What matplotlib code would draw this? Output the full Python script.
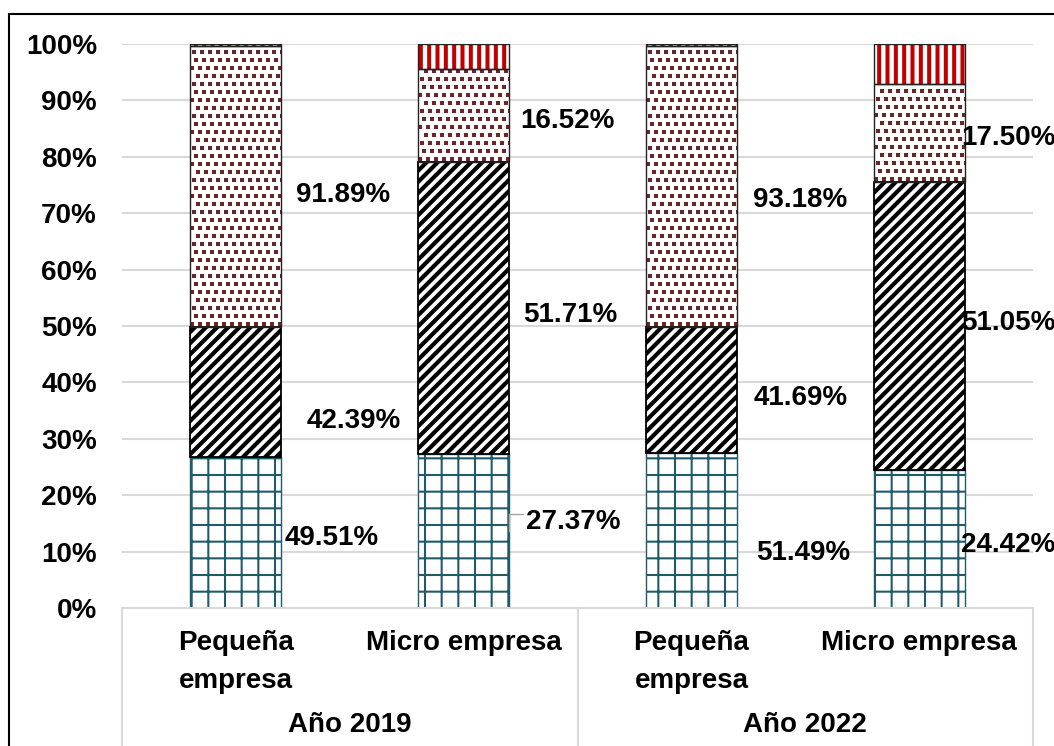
import matplotlib
matplotlib.use('Agg')
import matplotlib.pyplot as plt
import matplotlib.transforms as mtrans
from matplotlib.patches import Rectangle
import numpy as np

plt.rcParams['font.family'] = ['Liberation Sans', 'DejaVu Sans']
plt.rcParams['font.weight'] = 'bold'

# ---------------- data ----------------
categories = ['Pequeña\nempresa', 'Micro empresa', 'Pequeña\nempresa', 'Micro empresa']
groups = ['Año 2019', 'Año 2022']
series_grid = [49.51, 27.37, 51.49, 24.42]   # bottom (grid pattern)
series_diag = [42.39, 51.71, 41.69, 51.05]   # middle (diagonal)
series_dots = [91.89, 16.52, 93.18, 17.50]   # upper (brown dots)
series_red = [0.60, 4.40, 0.60, 7.03]        # top (red stripes, unlabeled)
ytick_values = [0, 10, 20, 30, 40, 50, 60, 70, 80, 90, 100]

# label placement tweaks (style): x offset from bar centre, y offset from segment centre
label_dx = [[0.215, 0.311, 0.263], [0.276, 0.263, 0.250],
            [0.285, 0.272, 0.272], [0.184, 0.184, 0.184]]
label_dy = [[-0.005, -0.046, -0.010], [0.021, -0.007, -0.004],
            [-0.035, -0.010, -0.019], [-0.005, 0.012, -0.003]]

TEAL = '#1F5B69'
BROWN = '#6B2626'
RED = '#C00000'
GRID = '#D9D9D9'

raw = np.array([series_grid, series_diag, series_dots, series_red], dtype=float)
frac = raw / raw.sum(axis=0)
bottoms = np.vstack([np.zeros(raw.shape[1]), np.cumsum(frac, axis=0)[:-1]])

W, H = 1054, 746
fig = plt.figure(figsize=(W / 100, H / 100), dpi=100)
ax_w_px, ax_h_px = 1033 - 122, 608 - 44
ax = fig.add_axes([122 / W, (H - 608) / H, ax_w_px / W, ax_h_px / H])

x = np.arange(len(categories))
bw = 0.4
ax.set_xlim(-0.5, len(categories) - 0.5)
ax.set_ylim(0, 1)


def hbar(vals, bottom, hatch, hcolor, hlw, edge_lw=0.0):
    with plt.rc_context({'hatch.linewidth': hlw}):
        bars = ax.bar(x, vals, bw, bottom=bottom, color='white', edgecolor=hcolor,
                      hatch=hatch, linewidth=edge_lw, zorder=2)
    for p in bars:
        if hasattr(p, 'set_hatch_linewidth'):
            p.set_hatch_linewidth(hlw)
    return bars


hbar(frac[0], bottoms[0], '+', TEAL, 1.5, edge_lw=1.0)
hbar(frac[1], bottoms[1], '///', 'black', 3.0, edge_lw=0.0)
dot_bars = ax.bar(x, frac[2], bw, bottom=bottoms[2], color='white', linewidth=0, zorder=2)
hbar(frac[3], bottoms[3], '||', RED, 2.9, edge_lw=0.0)

# confetti pattern (small brown squares) clipped to each dotted segment
ux = len(categories) / ax_w_px   # data units per pixel (x)
uy = 1.0 / ax_h_px               # data units per pixel (y)
step = 8.0
for p in dot_bars:
    x0, y0 = p.get_x(), p.get_y()
    w, h = p.get_width(), p.get_height()
    nrows = int(h / (step * uy)) + 2
    ncols = int(w / (step * ux)) + 2
    px, py = [], []
    for r in range(nrows):
        off = (step / 2) * (r % 2) + (2 if (r // 2) % 2 else 0)
        for cidx in range(ncols):
            px.append(x0 + (cidx * step + off + 2) * ux)
            py.append(y0 + (r * step + 3) * uy)
    sc = ax.scatter(px, py, marker='s', s=9, color=BROWN, linewidths=0, zorder=2.5)
    sc.set_clip_path(p)

# outlines
ax.bar(x, frac[1], bw, bottom=bottoms[1], fill=False, edgecolor='black', linewidth=1.3, zorder=3)
ax.bar(x, frac[2], bw, bottom=bottoms[2], fill=False, edgecolor='#222222', linewidth=1.0, zorder=3)
ax.bar(x, frac[3], bw, bottom=bottoms[3], fill=False, edgecolor='#222222', linewidth=1.0, zorder=3)

ax.set_yticks([v / 100 for v in ytick_values])
ax.set_yticklabels([f'{v}%' for v in ytick_values])
ax.tick_params(axis='y', length=0, pad=18, labelsize=20)
ax.set_xticks([])
ax.yaxis.grid(True, color=GRID, linewidth=1.5)
ax.set_axisbelow(True)
for s in ['top', 'left', 'right']:
    ax.spines[s].set_visible(False)
ax.spines['bottom'].set_color(GRID)
ax.spines['bottom'].set_linewidth(1.5)

# data labels
shift = mtrans.ScaledTranslation(0, -10 / 100, fig.dpi_scale_trans)
for i in range(len(categories)):
    for k in range(3):
        yc = bottoms[k][i] + frac[k][i] / 2 + label_dy[i][k]
        ax.text(x[i] + label_dx[i][k], yc, f'{raw[k][i]:.2f}%', ha='left', va='baseline',
                fontsize=20, fontweight='bold', transform=ax.transData + shift, zorder=5)

# leader line for 27.37% label
yl = bottoms[0][1] + frac[0][1] / 2 + label_dy[1][0] + 0.009
ax.plot([x[1] + bw / 2, x[1] + 0.262], [yl, yl], color='#A6A6A6', lw=1, zorder=4, clip_on=False)
ax.plot([x[1] + bw / 2, x[1] + bw / 2], [yl, yl - 0.03], color='#A6A6A6', lw=1, zorder=4, clip_on=False)

# category axis texts (one text per line, baselines 38 px apart)
xt = ax.get_xaxis_transform()
line_step = 38 / ax_h_px
for i, c in enumerate(categories):
    for j, part in enumerate(c.split('\n')):
        ax.text(x[i], -0.0745 - j * line_step, part, ha='center', va='baseline', fontsize=20,
                fontweight='bold', transform=xt, clip_on=False)
for g, name in enumerate(groups):
    ax.text(2 * g + 0.5, -0.22, name, ha='center', va='baseline', fontsize=20, fontweight='bold',
            transform=xt, clip_on=False)
for xv in [-0.5, 1.5, 3.5]:
    ax.plot([xv, xv], [0, -0.26], color=GRID, lw=1.5, transform=xt, clip_on=False)

# figure border (chart area)
fig.add_artist(Rectangle((9 / W, -0.1), 1.2, (H - 14) / H + 0.1, transform=fig.transFigure,
                         fill=False, edgecolor='black', linewidth=1.5))

fig.savefig('out.png', dpi=100)
